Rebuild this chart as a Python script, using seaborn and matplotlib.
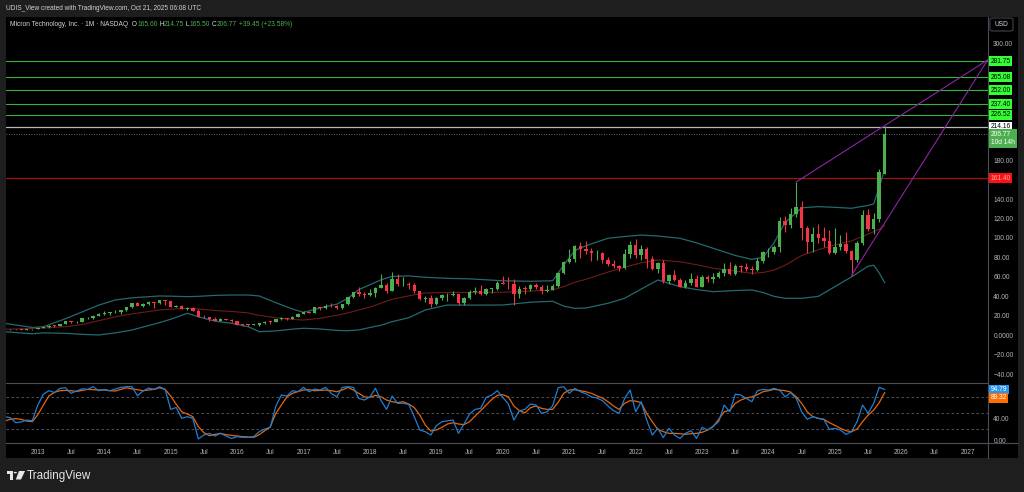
import numpy as np
import pandas as pd
import matplotlib
matplotlib.use("Agg")
import matplotlib.pyplot as plt
import seaborn as sns
from matplotlib.patches import Polygon, Circle, FancyBboxPatch
from matplotlib.lines import Line2D

# ---- monthly candles, Jul 2012 .. Oct 2025 (160 bars) ----
months = pd.date_range("2012-07-01", periods=160, freq="MS")

opens = [6.30, 6.20, 6.20, 6.00, 5.40, 6.00,
         6.30, 7.90, 8.00, 9.98, 9.60, 11.70, 14.30, 13.30, 13.90, 17.50, 17.70, 20.00,
         21.70, 23.10, 23.60, 23.70, 26.10, 28.70, 33.00, 30.60, 32.60, 34.30, 33.10, 36.00,
         35.00, 29.30, 30.50, 27.10, 28.10, 25.10, 18.80, 18.50, 16.40, 15.00, 16.60, 15.90,
         14.20, 11.00, 10.60, 10.50, 10.80, 12.70, 13.80, 13.70, 16.40, 17.80, 17.20, 19.30,
         21.90, 24.10, 23.20, 28.90, 27.70, 30.60, 29.90, 28.10, 32.00, 39.30, 44.30, 42.20,
         41.10, 43.70, 48.80, 52.10, 46.00, 57.60, 52.40, 52.80, 52.00, 45.20, 37.70, 38.60,
         31.70, 38.20, 40.90, 41.30, 42.10, 32.70, 38.60, 44.90, 45.30, 42.90, 47.50, 47.50,
         53.80, 53.20, 52.50, 42.10, 47.90, 47.80, 51.50, 50.10, 45.50, 47.00, 50.30, 64.10,
         75.20, 78.30, 92.00, 88.20, 86.30, 84.10, 85.00, 77.60, 73.70, 71.00, 69.10, 84.00,
         93.20, 82.20, 88.80, 77.90, 68.20, 73.80, 55.30, 61.90, 56.50, 50.10, 54.10, 57.70,
         50.00, 60.30, 57.80, 60.30, 64.40, 68.20, 63.10, 71.40, 69.90, 68.00, 66.90, 76.10,
         85.30, 85.70, 90.60, 117.90, 113.00, 125.00, 131.50, 109.80, 96.20, 103.70, 99.70, 97.20,
         84.20, 91.20, 93.50, 86.90, 77.00, 94.50, 123.30, 109.10, 119.00, 165.60]
highs = [6.90, 6.60, 6.60, 6.10, 6.20, 6.60,
         8.10, 8.50, 10.20, 10.20, 11.90, 14.40, 15.00, 14.40, 17.90, 18.40, 20.60, 22.50,
         24.50, 24.30, 25.70, 26.40, 28.80, 33.50, 34.00, 33.30, 34.90, 34.60, 36.60, 36.60,
         35.30, 31.60, 31.00, 28.90, 29.00, 26.70, 20.90, 18.90, 18.40, 17.80, 17.00, 16.30,
         14.30, 11.60, 11.30, 11.90, 12.80, 14.30, 14.30, 16.60, 18.50, 18.10, 19.90, 22.50,
         24.70, 24.90, 29.20, 29.00, 32.00, 32.80, 31.20, 32.20, 39.70, 44.50, 49.30, 44.50,
         47.80, 49.50, 63.00, 53.40, 64.70, 63.40, 59.60, 54.80, 53.60, 46.00, 40.60, 41.00,
         39.00, 42.40, 43.50, 45.80, 42.30, 39.40, 47.00, 49.30, 51.40, 48.70, 48.90, 55.30,
         61.20, 60.20, 58.00, 50.20, 50.30, 52.70, 54.20, 51.90, 51.50, 53.00, 65.00, 76.80,
         88.80, 93.10, 95.70, 97.00, 89.60, 88.00, 85.50, 80.00, 77.50, 72.20, 89.00, 96.90,
         98.50, 93.00, 91.00, 81.00, 75.00, 77.00, 63.00, 67.00, 58.50, 56.50, 64.00, 62.00,
         61.50, 61.50, 64.00, 66.00, 74.00, 74.80, 72.80, 72.50, 74.50, 70.80, 79.50, 87.00,
         90.00, 93.00, 122.00, 123.00, 130.50, 157.50, 138.00, 112.00, 111.00, 114.00, 111.00, 108.00,
         110.00, 103.00, 106.00, 88.00, 97.00, 129.00, 129.80, 126.00, 170.50, 214.75]
lows = [5.90, 5.90, 5.80, 5.20, 5.20, 5.90,
        6.30, 7.50, 7.90, 8.90, 9.40, 11.50, 12.90, 12.60, 13.80, 16.30, 17.10, 19.80,
        21.10, 20.90, 22.70, 22.30, 25.00, 28.10, 29.80, 29.50, 31.40, 28.30, 32.40, 31.00,
        28.90, 28.80, 26.60, 26.00, 25.00, 18.70, 17.90, 14.30, 14.70, 14.30, 15.30, 13.90,
        10.30, 9.50, 9.90, 10.20, 9.60, 11.80, 11.80, 13.50, 15.80, 16.00, 16.80, 19.20,
        21.80, 22.60, 23.00, 25.70, 27.30, 28.60, 27.30, 26.90, 30.80, 37.90, 40.30, 38.50,
        40.00, 39.60, 48.50, 43.50, 45.50, 51.00, 50.80, 47.60, 43.50, 35.80, 34.10, 29.00,
        30.90, 36.30, 35.50, 40.00, 31.60, 31.10, 37.50, 42.10, 41.00, 41.60, 43.80, 46.50,
        52.50, 48.00, 31.10, 38.00, 42.00, 46.00, 47.50, 42.60, 44.00, 47.00, 49.50, 62.70,
        74.60, 75.40, 79.30, 83.80, 76.00, 77.70, 74.50, 71.00, 69.60, 65.70, 68.50, 79.00,
        79.80, 77.00, 69.00, 67.00, 63.50, 54.00, 52.50, 56.00, 49.50, 48.50, 51.50, 49.30,
        49.50, 54.50, 53.50, 58.50, 61.00, 61.50, 62.00, 65.00, 66.00, 62.50, 66.50, 74.50,
        80.50, 84.00, 85.50, 106.00, 110.00, 121.50, 98.00, 84.10, 86.00, 95.00, 90.50, 84.00,
        84.00, 88.00, 85.00, 61.50, 75.50, 93.00, 107.00, 104.00, 116.00, 165.50]
closes = [6.20, 6.20, 6.00, 5.40, 6.00, 6.30,
          7.90, 8.00, 9.98, 9.60, 11.70, 14.30, 13.30, 13.90, 17.50, 17.70, 20.00, 21.70,
          23.10, 23.60, 23.70, 26.10, 28.70, 33.00, 30.60, 32.60, 34.30, 33.10, 36.00, 35.00,
          29.30, 30.50, 27.10, 28.10, 25.10, 18.80, 18.50, 16.40, 15.00, 16.60, 15.90, 14.20,
          11.00, 10.60, 10.50, 10.80, 12.70, 13.80, 13.70, 16.40, 17.80, 17.20, 19.30, 21.90,
          24.10, 23.20, 28.90, 27.70, 30.60, 29.90, 28.10, 32.00, 39.30, 44.30, 42.20, 41.10,
          43.70, 48.80, 52.10, 46.00, 57.60, 52.40, 52.80, 52.00, 45.20, 37.70, 38.60, 31.70,
          38.20, 40.90, 41.30, 42.10, 32.70, 38.60, 44.90, 45.30, 42.90, 47.50, 47.50, 53.80,
          53.20, 52.50, 42.10, 47.90, 47.80, 51.50, 50.10, 45.50, 47.00, 50.30, 64.10, 75.20,
          78.30, 91.60, 88.20, 86.30, 84.10, 85.00, 77.60, 73.70, 71.00, 69.10, 84.00, 93.20,
          82.20, 88.80, 77.90, 68.20, 73.80, 55.30, 61.90, 56.50, 50.10, 54.10, 57.70, 50.00,
          60.30, 57.80, 60.30, 64.40, 68.20, 63.10, 71.40, 69.90, 68.00, 66.90, 76.10, 85.30,
          85.70, 90.60, 117.90, 113.00, 125.00, 131.50, 109.80, 96.20, 103.70, 99.70, 97.20, 84.20,
          91.20, 93.50, 86.90, 77.00, 94.50, 123.30, 109.10, 119.00, 167.30, 206.77]

# ---- Bollinger bands (bar index, value) ----
band_idx = [0, 5, 7, 11, 14, 17, 20, 23, 28, 30, 33, 35, 38, 41, 44, 46, 49, 52, 54, 57,
            60, 62, 64, 66, 68, 70, 73, 76, 80, 84, 90, 95, 99, 101, 103, 105, 109, 112, 115, 118,
            122, 125, 128, 132, 135, 137, 139, 141, 144, 147, 150, 153, 156, 157, 158, 159]
band_upper = [12.3, 8.0, 8.8, 17, 24, 31, 36.3, 38.5, 40.4, 40.2, 39.7, 40, 41, 41.4, 41.4, 40.4, 33.5, 27, 23.6, 28,
              32, 38, 47, 52, 57, 60.5, 61, 59.6, 58.5, 58, 56, 55.5, 56, 72, 87, 92, 99.7, 101.5, 103, 102,
              99.7, 95, 89.4, 82, 78, 80, 95, 116, 131, 132.2, 131.5, 130.5, 133.5, 135, 152, 171]
band_basis = [6.2, 7.0, 7.5, 8.8, 11, 15, 19, 22, 26, 26.8, 27.7, 27, 25.4, 24.5, 23, 20.5, 18, 16.3, 15.7, 17.5,
              20.5, 23, 26, 29, 33, 37, 40.5, 43.5, 44, 44, 44.2, 45.5, 46.6, 50, 54.5, 57.5, 65, 70, 74.5, 77.4,
              75.6, 72.5, 68.9, 66, 63.7, 64.5, 67, 72, 82, 88, 92.8, 97, 104, 106.5, 109, 113]
band_lower = [3.7, 1.5, 2.5, 2.0, 1.0, 0.3, 2.5, 5.4, 13, 16.5, 22.6, 19, 14.5, 12.3, 8.8, 3.7, 4.5, 6.3, 7.2, 6.5,
              5, 4.7, 5.5, 8, 10.3, 14, 18, 26, 31.1, 31, 31.1, 34, 35, 30, 27.7, 28, 32.9, 38, 47.5, 56.8,
              50, 47, 44.8, 46, 46.6, 44, 40, 38, 38, 40, 50, 60, 71, 72, 64, 54]

# ---- stochastic oscillator (%K blue, %D orange) ----
stoch_k = [43.8, 42, 32.5, 34, 37.5, 36, 65.6, 86, 92.5, 89, 97, 98, 87.5, 92, 96, 95, 100, 92.5, 95, 92.5,
           95.6, 98.8, 100, 100, 83, 92, 97.5, 95, 100, 95, 57.5, 61, 40.6, 43.8, 40.6, 2, 9.4, 12.5, 7.5, 12.5,
           7.5, 3, 6.3, 5, 5, 6.3, 15.6, 20.6, 23.8, 63.8, 84.4, 82.5, 92.5, 90.6, 98.8, 90.6, 95.6, 93.8, 98.8, 87.5,
           81, 98.8, 100, 98.8, 78, 75, 81, 97, 74, 57.5, 82.5, 68.8, 68.8, 67, 43.8, 18.8, 15.6, 9.4, 27, 34.4,
           36, 37.5, 12.5, 30, 48.8, 57.5, 59.4, 80, 84.4, 92.5, 80, 67.5, 37.5, 55, 57.5, 67.5, 65.6, 50, 53, 64,
           98, 100, 87.5, 96.9, 90.6, 86.9, 81, 78.8, 73.8, 63.8, 55, 50, 78, 93.8, 53, 71.9, 37.5, 9.4, 21.9, 4.4,
           21.9, 9.4, 3, 12.5, 17.5, 3, 23.8, 18.8, 26, 34.4, 65.6, 53, 86, 84.4, 78, 71.9, 92.5, 95, 93.8, 96.9,
           93.8, 81, 88.8, 78, 53, 38.8, 43.8, 40.6, 38.8, 20, 21.9, 18.8, 10.6, 15.6, 34.4, 65.6, 50, 68.8, 98.8, 94.79]
stoch_d = [35.6, 38.8, 40, 38.8, 35.6, 34.4, 47.5, 65.6, 82.5, 89.4, 92.5, 93, 92.5, 91, 93, 95, 94.4, 93.8, 93.8, 92.5,
           91.9, 95, 98, 96, 94.4, 92.5, 93.8, 95, 98, 95, 82.5, 67, 53, 48.8, 43.8, 25, 13.8, 8.1, 10.6, 12.5,
           10, 8.8, 7.5, 6.3, 5.6, 5, 10, 17.5, 25, 50, 65.6, 81, 87.5, 91, 93.8, 94.4, 92.5, 93, 93.8, 92.5,
           90.6, 93.8, 98.8, 93.8, 87.5, 81, 80, 83.8, 81, 75, 71.9, 70, 71.9, 67.5, 61, 46.9, 28, 16.9, 18.8, 23.8,
           30, 32.5, 30, 28.8, 34.4, 45, 55, 65.6, 76, 83.8, 85, 81, 63.8, 55, 51, 60.6, 63.8, 59.4, 57.5, 57.5,
           70.6, 87.5, 93.8, 94.4, 92.5, 90.6, 87.5, 83, 78.8, 71.9, 63.8, 57.5, 68.8, 73.8, 73, 70, 50, 34.4, 20, 15.6,
           12.5, 12.5, 11.9, 10.6, 11.9, 12.5, 14.4, 18.8, 25, 38.8, 53, 56, 68.8, 75, 78.8, 81, 85, 90.6, 92.5, 95,
           93.8, 92.5, 90, 81, 68.8, 53, 43.8, 40.6, 38.8, 32.5, 27.5, 21.9, 17.5, 15.6, 20.6, 34.4, 46.9, 56, 70, 89.32]

# ---- drawn objects ----
green_levels = [281.75, 265.08, 252.00, 237.40, 226.52]
white_level = 214.16
red_level = 161.40
last_price = 206.77
trend_upper = ([143, 177.6], [157.5, 283.0])
trend_lower = ([153, 177.6], [61.5, 283.0])

price_ticks = [300, 180, 140, 120, 100, 80, 60, 40, 20, 0, -20, -40]
price_tick_labels = ["300.00", "180.00", "140.00", "120.00", "100.00", "80.00", "60.00",
                     "40.00", "20.00", "0.0000", "\u221220.00", "\u221240.00"]

UP, DOWN = "#4caf50", "#f23645"
AXIS_TXT = "#b2b5be"
LBL = 4.8
LX = 1.003

sns.set_theme(style="dark", rc={"axes.facecolor": "black", "figure.facecolor": "#1e1e1e"})
plt.rcParams["font.family"] = ["Liberation Sans", "DejaVu Sans"]

W, H = 1024, 492
fig = plt.figure(figsize=(W / 100, H / 100), dpi=100)


def box(l, t, r, b):
    return [l / W, 1 - b / H, (r - l) / W, (b - t) / H]


def fx(x):
    return x / W


def fy(y):
    return 1 - y / H


bg = fig.add_axes(box(6, 17, 1018, 458))
bg.set_facecolor("black")
bg.set_xticks([])
bg.set_yticks([])
for s in bg.spines.values():
    s.set_visible(False)

ax = fig.add_axes(box(6, 17, 987.7, 381.5))
osc = fig.add_axes(box(6, 382.5, 987.7, 443))
XLIM = (0.25, 177.6)

# ---- candles ----
idx = np.arange(len(months))
o = np.array(opens)
c = np.array(closes)
colors = np.where(c >= o, UP, DOWN)
ax.vlines(idx, lows, highs, colors=colors, linewidth=0.8, zorder=3)
ax.bar(idx, np.maximum(np.abs(c - o), 0.6), bottom=np.minimum(o, c), width=0.62,
       color=colors, linewidth=0, zorder=4)

# ---- bands ----
bands = pd.DataFrame({"i": band_idx, "upper": band_upper, "basis": band_basis, "lower": band_lower})
sns.lineplot(data=bands, x="i", y="upper", ax=ax, color="#236a70", linewidth=0.9, zorder=2)
sns.lineplot(data=bands, x="i", y="lower", ax=ax, color="#236a70", linewidth=0.9, zorder=2)
sns.lineplot(data=bands, x="i", y="basis", ax=ax, color="#6e1c1c", linewidth=0.8, zorder=2)

# ---- levels ----
ytr = ax.get_yaxis_transform()
lab_kw = dict(transform=ytr, ha="left", va="center", fontsize=LBL, clip_on=False, zorder=10)
for lvl in green_levels:
    ax.axhline(lvl, color="#35b535", linewidth=0.8, zorder=1)
    ax.text(LX, lvl, f"{lvl:.2f}", color="black",
            bbox=dict(boxstyle="square,pad=0.22", fc="#33ff33", ec="none"), **lab_kw)
ax.axhline(white_level, color="#b8b8b8", linewidth=0.9, zorder=1)
ax.text(LX, white_level, f"{white_level:.2f}", color="black",
        bbox=dict(boxstyle="square,pad=0.22", fc="white", ec="none"), **lab_kw)
ax.axhline(last_price, color="#8a8d96", linewidth=0.6, linestyle=(0, (1, 2)), zorder=1)
ax.text(LX, 202.3, f"{last_price:.2f}\n10d 14h", color="white", linespacing=1.3,
        bbox=dict(boxstyle="square,pad=0.3", fc="#4caf50", ec="none"), **lab_kw)
ax.axhline(red_level, color="#a31212", linewidth=0.9, zorder=1)
ax.text(LX, red_level, f"{red_level:.2f}", color="#ffb0b0",
        bbox=dict(boxstyle="square,pad=0.22", fc="#ff1010", ec="none"), **lab_kw)

ax.plot(*trend_upper, color="#8e24aa", linewidth=0.8, zorder=5, clip_on=False)
ax.plot(*trend_lower, color="#8e24aa", linewidth=0.8, zorder=5, clip_on=False)

ax.set_xlim(*XLIM)
ax.set_ylim(-47.5, 327.1)
ax.set_xticks([])
ax.set_yticks(price_ticks)
ax.set_yticklabels(price_tick_labels)
ax.yaxis.tick_right()
ax.tick_params(axis="y", length=0, pad=4, labelsize=LBL, labelcolor=AXIS_TXT)
ax.grid(False)
ax.set_xlabel("")
ax.set_ylabel("")
for name, s in ax.spines.items():
    s.set_visible(name == "right")
    s.set_color("#4a4d57")
    s.set_linewidth(0.8)

# ---- oscillator ----
stoch = pd.DataFrame({"i": idx, "k": stoch_k, "d": stoch_d})
for lvl in (80, 50, 20):
    osc.axhline(lvl, color="#5d606b", linewidth=0.6, linestyle=(0, (3, 3)))
sns.lineplot(data=stoch, x="i", y="d", ax=osc, color="#e8650a", linewidth=0.9)
sns.lineplot(data=stoch, x="i", y="k", ax=osc, color="#1e7fd6", linewidth=0.9)
otr = osc.get_yaxis_transform()
osc.text(LX, stoch_k[-1], f"{stoch_k[-1]:.2f}", color="white", transform=otr, ha="left", va="center",
         fontsize=LBL, clip_on=False, bbox=dict(boxstyle="square,pad=0.22", fc="#2196f3", ec="none"))
osc.text(LX, 79.5, f"{stoch_d[-1]:.2f}", color="white", transform=otr, ha="left", va="center",
         fontsize=LBL, clip_on=False, bbox=dict(boxstyle="square,pad=0.22", fc="#ff6d00", ec="none"))
osc.set_xlim(*XLIM)
osc.set_ylim(-5.6, 107.9)
osc.set_yticks([40, 0])
osc.set_yticklabels(["40.00", "0.00"])
osc.yaxis.tick_right()
osc.tick_params(axis="y", length=0, pad=4, labelsize=LBL, labelcolor=AXIS_TXT)

xt, xl = [], []
for yr in range(2013, 2028):
    xt.append(6 + 12 * (yr - 2013))
    xl.append(str(yr))
    if yr < 2027:
        xt.append(12 + 12 * (yr - 2013))
        xl.append("Jul")
osc.set_xticks(xt)
osc.set_xticklabels(xl)
osc.tick_params(axis="x", length=0, pad=4, labelsize=4.8, labelcolor=AXIS_TXT)
osc.grid(False)
osc.set_xlabel("")
osc.set_ylabel("")
for name, s in osc.spines.items():
    s.set_visible(name in ("right", "top", "bottom"))
    s.set_color("#4a4d57")
    s.set_linewidth(0.8)

# frame lines across the price-axis strip
fig.add_artist(Line2D([fx(6), fx(1018)], [fy(443), fy(443)], color="#4a4d57", linewidth=0.8))
fig.add_artist(Line2D([fx(987.7), fx(987.7)], [fy(443), fy(458)], color="#4a4d57", linewidth=0.8))

# ---- header texts ----
fig.text(fx(6), fy(8), "UDIS_View created with TradingView.com, Oct 21, 2025 06:08 UTC",
         fontsize=4.7, color="#d1d4dc", va="center")
renderer = fig.canvas.get_renderer()
parts = [("Micron Technology, Inc. \u00b7 1M \u00b7 NASDAQ", "#d1d4dc"), ("  O", "#d1d4dc"),
         ("165.60", UP), (" H", "#d1d4dc"), ("214.75", UP), (" L", "#d1d4dc"), ("165.50", UP),
         (" C", "#d1d4dc"), ("206.77", UP), (" +39.45 (+23.58%)", UP)]
xpos = 10
for s, col in parts:
    t = fig.text(fx(xpos), fy(24), s, fontsize=4.8, color=col, va="center")
    xpos += t.get_window_extent(renderer=renderer).width

fig.add_artist(FancyBboxPatch((fx(990), fy(31)), fx(23), 13 / H, boxstyle="round,pad=0,rounding_size=0.003",
                              fc="black", ec="#4a4d57", linewidth=0.7, transform=fig.transFigure))
fig.text(fx(1001.5), fy(24.5), "USD", fontsize=4.8, color="#d1d4dc", ha="center", va="center")

# ---- TradingView logo ----
logo = "#e6e6e6"
fig.add_artist(Polygon([(fx(7), fy(471)), (fx(13), fy(471)), (fx(13), fy(479.5)), (fx(10), fy(479.5)),
                        (fx(10), fy(474)), (fx(7), fy(474))], closed=True, fc=logo, ec="none",
                       transform=fig.transFigure))
fig.add_artist(Circle((fx(15.3), fy(472.6)), 1.6 / W, fc=logo, ec="none", transform=fig.transFigure))
fig.add_artist(Polygon([(fx(19), fy(471)), (fx(25), fy(471)), (fx(21), fy(479.5)), (fx(15.8), fy(479.5))],
                       closed=True, fc=logo, ec="none", transform=fig.transFigure))
fig.text(fx(27), fy(475.5), "TradingView", fontsize=8.4, color=logo, va="center")

fig.savefig("out.png", dpi=100, facecolor=fig.get_facecolor())
